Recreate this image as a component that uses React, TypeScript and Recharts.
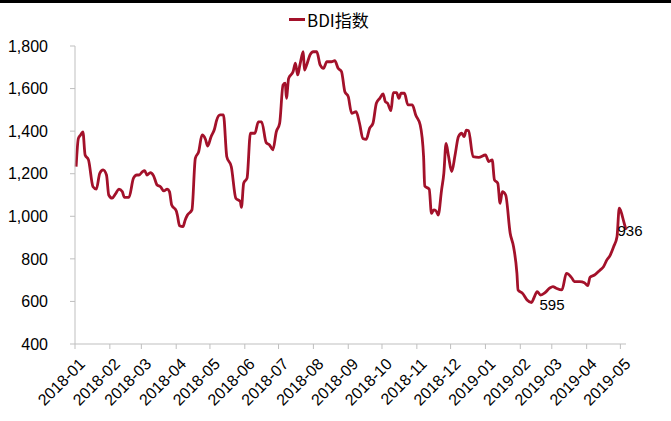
import { LineChart, Line, XAxis, YAxis, LabelList } from "recharts";

// Baltic Dry Index, 2018-01 .. 2019-05
const dates = [
  "2018-01-02", "2018-01-04", "2018-01-06", "2018-01-08", "2018-01-10", "2018-01-13",
  "2018-01-17", "2018-01-20", "2018-01-23", "2018-01-26", "2018-01-29", "2018-01-31",
  "2018-02-03", "2018-02-06", "2018-02-09", "2018-02-12", "2018-02-14", "2018-02-18",
  "2018-02-22", "2018-02-25", "2018-02-27", "2018-03-02", "2018-03-04", "2018-03-06",
  "2018-03-09", "2018-03-12", "2018-03-15", "2018-03-18", "2018-03-21", "2018-03-24",
  "2018-03-26", "2018-03-28", "2018-04-01", "2018-04-02", "2018-04-04", "2018-04-07",
  "2018-04-09", "2018-04-11", "2018-04-15", "2018-04-18", "2018-04-21", "2018-04-24",
  "2018-04-27", "2018-04-29", "2018-05-02", "2018-05-05", "2018-05-07", "2018-05-10",
  "2018-05-13", "2018-05-16", "2018-05-20", "2018-05-24", "2018-05-28", "2018-05-29",
  "2018-05-31", "2018-06-03", "2018-06-06", "2018-06-10", "2018-06-13", "2018-06-16",
  "2018-06-20", "2018-06-23", "2018-06-26", "2018-06-29", "2018-07-02", "2018-07-05",
  "2018-07-07", "2018-07-08", "2018-07-10", "2018-07-14", "2018-07-16", "2018-07-18",
  "2018-07-20", "2018-07-23", "2018-07-24", "2018-07-26", "2018-07-29", "2018-08-01",
  "2018-08-04", "2018-08-07", "2018-08-10", "2018-08-13", "2018-08-17", "2018-08-20",
  "2018-08-23", "2018-08-26", "2018-08-29", "2018-09-01", "2018-09-04", "2018-09-08",
  "2018-09-11", "2018-09-14", "2018-09-17", "2018-09-20", "2018-09-23", "2018-09-26",
  "2018-09-29", "2018-10-02", "2018-10-04", "2018-10-06", "2018-10-09", "2018-10-11",
  "2018-10-14", "2018-10-16", "2018-10-18", "2018-10-21", "2018-10-24", "2018-10-28",
  "2018-10-31", "2018-11-04", "2018-11-07", "2018-11-08", "2018-11-12", "2018-11-14",
  "2018-11-16", "2018-11-18", "2018-11-20", "2018-11-23", "2018-11-25", "2018-11-27",
  "2018-11-29", "2018-12-02", "2018-12-05", "2018-12-08", "2018-12-11", "2018-12-13",
  "2018-12-15", "2018-12-17", "2018-12-21", "2018-12-26", "2019-01-01", "2019-01-04",
  "2019-01-07", "2019-01-09", "2019-01-12", "2019-01-14", "2019-01-16", "2019-01-19",
  "2019-01-23", "2019-01-26", "2019-01-29", "2019-01-30", "2019-02-03", "2019-02-07",
  "2019-02-11", "2019-02-13", "2019-02-16", "2019-02-19", "2019-02-23", "2019-02-27",
  "2019-03-02", "2019-03-05", "2019-03-10", "2019-03-14", "2019-03-19", "2019-03-21",
  "2019-03-26", "2019-03-30", "2019-04-02", "2019-04-04", "2019-04-08", "2019-04-13",
  "2019-04-16", "2019-04-19", "2019-04-22", "2019-04-25", "2019-04-28", "2019-04-30",
  "2019-05-01", "2019-05-04", "2019-05-06",
];

const bdi = [
  1233, 1366, 1382, 1397, 1288, 1265,
  1139, 1128, 1202, 1218, 1194, 1100,
  1085, 1105, 1128, 1116, 1089, 1089,
  1179, 1194, 1194, 1210, 1214, 1194,
  1205, 1189, 1147, 1139, 1119, 1128,
  1116, 1053, 1026, 1006, 955, 951,
  983, 1006, 1030, 1272, 1304, 1382,
  1362, 1330, 1374, 1409, 1452, 1476,
  1476, 1280, 1233, 1085, 1069, 1042,
  1155, 1179, 1390, 1390, 1444, 1444,
  1346, 1335, 1312, 1397, 1437, 1617,
  1625, 1554, 1648, 1680, 1719, 1664,
  1711, 1773, 1687, 1711, 1758, 1773,
  1773, 1711, 1695, 1726, 1726, 1731,
  1695, 1680, 1585, 1562, 1484, 1491,
  1437, 1366, 1362, 1413, 1437, 1531,
  1554, 1575, 1538, 1531, 1496, 1581,
  1581, 1554, 1578, 1578, 1523, 1523,
  1476, 1429, 1280, 1142, 1127, 1014,
  1030, 1026, 1006, 1124, 1202, 1343,
  1288, 1210, 1288, 1374, 1390, 1374,
  1405, 1402, 1280, 1277, 1288, 1257,
  1265, 1171, 1155, 1061, 1116, 1100,
  920, 857, 732, 654, 638, 607,
  595, 615, 646, 630, 641, 662,
  670, 662, 654, 732, 709, 693,
  693, 688, 674, 714, 724, 748,
  763, 795, 818, 857, 904, 1038,
  1030, 975, 936,
];

const monthTicks = [
  "2018-01", "2018-02", "2018-03", "2018-04", "2018-05", "2018-06", "2018-07",
  "2018-08", "2018-09", "2018-10", "2018-11", "2018-12", "2019-01", "2019-02",
  "2019-03", "2019-04", "2019-05",
];

const yTicks = [400, 600, 800, 1000, 1200, 1400, 1600, 1800];

const ORIGIN = Date.UTC(2018, 0, 1);
const dayOf = (s: string) => Math.round((Date.parse(s) - ORIGIN) / 86400000);

const data = dates.map((d, i) => ({ t: dayOf(d), date: d, bdi: bdi[i] }));
const tickDays = monthTicks.map((m) => dayOf(m + "-01"));
const labelOf: Record<number, string> = {};
tickDays.forEach((d, i) => (labelOf[d] = monthTicks[i]));

const minIdx = bdi.indexOf(Math.min(...bdi));
const lastIdx = bdi.length - 1;

const RED = "#A3112A";
const AXIS = "#BFBFBF";
const FONT = "'Liberation Sans', Arial, sans-serif";

function MonthTick({ x, y, payload }: any) {
  return (
    <text
      transform={`translate(${x + 4},${y + 7}) rotate(-45)`}
      textAnchor="end"
      fontSize={16}
      fontFamily={FONT}
      fill="#000"
      dy={10}
    >
      {labelOf[payload.value]}
    </text>
  );
}

function PointLabel({ x, y, value, index }: any) {
  if (index === minIdx) {
    return (
      <text x={x + 8} y={y + 8} fontSize={15} fontFamily={FONT} fill="#000">
        {value}
      </text>
    );
  }
  if (index === lastIdx) {
    return (
      <text x={x + 4} y={y + 6} textAnchor="middle" fontSize={15} fontFamily={FONT} fill="#000">
        {value}
      </text>
    );
  }
  return null;
}

export default function App() {
  return (
    <div style={{ position: "relative", width: 671, height: 421, background: "#fff" }}>
      <style>{`body{margin:0}`}</style>
      <div
        style={{ position: "absolute", top: 0, left: 0, width: 671, height: 3, background: "#000" }}
      />
      <div
        style={{
          position: "absolute",
          top: 7,
          left: 289,
          display: "flex",
          alignItems: "center",
          gap: 2,
          fontFamily: "'Noto Sans CJK SC', sans-serif",
          fontSize: 17,
          color: "#000",
        }}
      >
        <span style={{ display: "inline-block", width: 16, height: 3, background: RED }} />
        <span>BDI指数</span>
      </div>
      <LineChart
        width={671}
        height={421}
        data={data}
        margin={{ top: 46, right: 45, left: 0, bottom: 0 }}
      >
        <XAxis
          dataKey="t"
          type="number"
          domain={[0, 490]}
          ticks={tickDays}
          interval={0}
          tick={<MonthTick />}
          height={77}
          tickSize={5}
          stroke={AXIS}
          tickLine={{ stroke: AXIS }}
        />
        <YAxis
          type="number"
          domain={[400, 1800]}
          ticks={yTicks}
          interval={0}
          width={75}
          tickSize={5}
          tickMargin={22}
          stroke={AXIS}
          tickLine={{ stroke: AXIS }}
          tick={{ fill: "#000", fontSize: 16, fontFamily: FONT }}
          tickFormatter={(v: number) => v.toLocaleString("en-US")}
        />
        <Line
          type="monotone"
          dataKey="bdi"
          stroke={RED}
          strokeWidth={2.8}
          dot={false}
          isAnimationActive={false}
        >
          <LabelList dataKey="bdi" content={<PointLabel />} />
        </Line>
      </LineChart>
    </div>
  );
}
